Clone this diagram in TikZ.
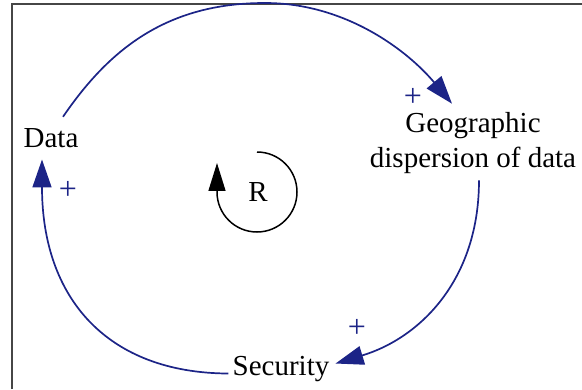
\documentclass[tikz,border=0pt]{standalone}
\usepackage{fontspec}
\setmainfont{Liberation Serif}
\usetikzlibrary{arrows.meta,calc}
\definecolor{loopblue}{RGB}{28,36,135}
\definecolor{framegray}{RGB}{70,70,70}
\tikzset{
  var/.style={inner sep=2pt, font=\fontsize{29}{35}\selectfont, text=black},
  polarity/.style={inner sep=0pt, font=\fontsize{32}{36}\selectfont, text=loopblue},
  link/.style={draw=loopblue, line width=1.7pt, -{Triangle[length=28pt,width=19pt]}},
  loopmark/.style={draw=black, line width=1.5pt, -{Triangle[length=28pt,width=17pt]}},
  frameline/.style={draw=framegray, line width=1.8pt}
}
\begin{document}
\begin{tikzpicture}[x=1pt,y=1pt]
\useasboundingbox (0,0) rectangle (582,389);
% frame (left and top sides)
\draw[frameline] (12,0) -- (12,385) -- (582,385);
% variables
\node[var, anchor=base] (data) at (51,241) {Data};
\node[var, anchor=base, align=center] (geo) at (473,221) {Geographic\\dispersion of data};
\node[var, anchor=base] (sec) at (281,14) {Security};
\node[var, anchor=base] (r) at (258,187) {R};
% polarities
\node[polarity] (p1) at (413,292) {+};
\node[polarity] (p2) at (357,61) {+};
\node[polarity] (p3) at (68,199) {+};
% links
\draw[link] ($(data.north)+(12,10)$) .. controls (108,338) and (165,386) .. (265,386)
  .. controls (345,386) and (407,339) .. ($(geo.north)+(-21,7)$);
\draw[link] ($(geo.south)+(6,-4)$) .. controls (479,109) and (420,51) .. ($(sec.east)+(4,5)$);
\draw[link] ($(sec.west)+(-2,-5)$) .. controls (107,16) and (42,91) .. ($(data.south)+(-9,-9)$);
% loop marker
\draw[loopmark] ($(r.base)+(-1,50)$) arc[start angle=90, end angle=-180, radius=40] -- ++(0,29);
\end{tikzpicture}
\end{document}
